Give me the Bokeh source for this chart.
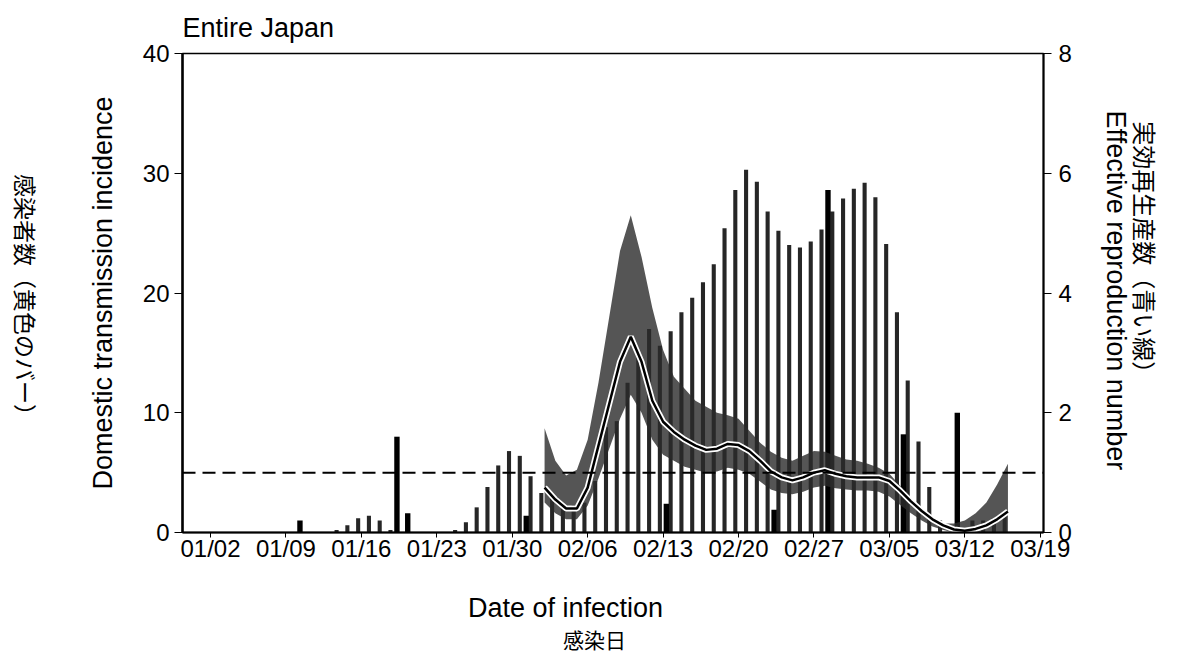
import math
import pandas as pd
from bokeh.plotting import figure
from bokeh.layouts import row, column
from bokeh.models import Range1d, LinearAxis, FixedTicker, Span, ColumnDataSource
from bokeh.core.properties import value
from bokeh.embed import file_html
from bokeh.resources import INLINE

# ---------------- data ----------------
start_date = "2020-01-02"
tick_labels = ["01/02", "01/09", "01/16", "01/23", "01/30", "02/06",
               "02/13", "02/20", "02/27", "03/05", "03/12", "03/19"]

# daily domestic transmission incidence (main bars)
bar_dates = ["01-13", "01-14", "01-15", "01-16", "01-17", "01-18",
             "01-24", "01-25", "01-26", "01-27", "01-28", "01-29", "01-30", "01-31",
             "02-01", "02-02", "02-03", "02-04", "02-05", "02-06", "02-07", "02-08",
             "02-09", "02-10", "02-11", "02-12", "02-13", "02-14", "02-15", "02-16",
             "02-17", "02-18", "02-19", "02-20", "02-21", "02-22", "02-23", "02-24",
             "02-25", "02-26", "02-27", "02-28", "02-29", "03-01", "03-02", "03-03",
             "03-04", "03-05", "03-06", "03-07", "03-08", "03-09",
             "03-12", "03-13", "03-14", "03-15"]
bar_values = [0.2, 0.6, 1.2, 1.4, 1.0, 0.2,
              0.2, 0.85, 2.1, 3.8, 5.6, 6.8, 6.4, 4.7,
              3.3, 3.0, 2.3, 2.3, 2.5, 4.3, 8.8, 9.3,
              12.5, 15.0, 17.0, 15.6, 16.8, 18.4, 19.6, 20.9,
              22.4, 25.4, 28.6, 30.3, 29.3, 26.8, 25.2, 24.0,
              23.8, 24.3, 25.3, 26.8, 27.9, 28.7, 29.2, 28.0,
              24.1, 18.4, 12.7, 7.6, 3.8, 1.0,
              1.0, 1.0, 1.2, 1.4]

# second (dark) bar series
dark_dates = ["01-10", "01-19", "01-20", "01-31", "02-13", "02-23", "02-28", "03-06", "03-11"]
dark_values = [1.0, 8.0, 1.6, 1.4, 2.4, 1.9, 28.6, 8.2, 10.0]

# effective reproduction number (central estimate and interval)
rt_dates = ["02-02", "02-03", "02-04", "02-05", "02-06", "02-07", "02-08", "02-09",
            "02-10", "02-11", "02-12", "02-13", "02-14", "02-15", "02-16", "02-17",
            "02-18", "02-19", "02-20", "02-21", "02-22", "02-23", "02-24", "02-25",
            "02-26", "02-27", "02-28", "02-29", "03-01", "03-02", "03-03", "03-04",
            "03-05", "03-06", "03-07", "03-08", "03-09", "03-10", "03-11", "03-12",
            "03-13", "03-14", "03-15", "03-16"]
rt_mean = [0.75, 0.55, 0.40, 0.40, 0.75, 1.45, 2.15, 2.85,
           3.27, 2.85, 2.20, 1.85, 1.68, 1.55, 1.45, 1.38,
           1.40, 1.48, 1.46, 1.36, 1.20, 1.02, 0.92, 0.87,
           0.92, 1.00, 1.04, 0.98, 0.94, 0.92, 0.92, 0.92,
           0.86, 0.70, 0.52, 0.36, 0.22, 0.12, 0.05, 0.03,
           0.06, 0.12, 0.22, 0.35]
rt_lower = [0.50, 0.32, 0.22, 0.22, 0.45, 0.90, 1.40, 1.90,
            2.30, 2.00, 1.55, 1.30, 1.20, 1.10, 1.05, 1.00,
            1.02, 1.08, 1.05, 0.98, 0.85, 0.72, 0.66, 0.64,
            0.68, 0.75, 0.78, 0.74, 0.72, 0.70, 0.70, 0.68,
            0.60, 0.46, 0.32, 0.20, 0.10, 0.04, 0.00, 0.00,
            0.00, 0.00, 0.00, 0.00]
rt_upper = [1.74, 1.20, 0.95, 1.05, 1.55, 2.50, 3.60, 4.70,
            5.30, 4.60, 3.75, 3.05, 2.60, 2.40, 2.20, 2.10,
            2.00, 1.96, 1.90, 1.70, 1.50, 1.35, 1.25, 1.20,
            1.28, 1.36, 1.35, 1.28, 1.22, 1.20, 1.15, 1.08,
            0.98, 0.78, 0.55, 0.37, 0.22, 0.15, 0.15, 0.20,
            0.32, 0.50, 0.80, 1.15]

rt_threshold = 1.0

# ---------------- helpers ----------------
t0 = pd.Timestamp(start_date)


def day_index(md):
    return float((pd.Timestamp("2020-" + md.replace("/", "-")) - t0).days)


bar_x = [day_index(d) + 0.7 for d in bar_dates]
dark_x = [day_index(d) + 0.3 for d in dark_dates]
rt_x = [day_index(d) for d in rt_dates]
tick_pos = [day_index(t) for t in tick_labels]

FONT = "Liberation Sans"
JFONT = "Noto Sans CJK JP"

TOTAL_W, TOTAL_H = 1166, 652
LEFT_W, RIGHT_W = 50, 92
MAIN_H = 566
BOTTOM_H = TOTAL_H - MAIN_H
MAIN_W = TOTAL_W - LEFT_W - RIGHT_W

# ---------------- main chart ----------------
p = figure(width=MAIN_W, height=MAIN_H, output_backend="svg", toolbar_location=None,
           x_range=Range1d(-2.6, 77.3), y_range=Range1d(0, 40),
           min_border_left=182 - LEFT_W, min_border_right=1074 - 1044,
           min_border_top=53, min_border_bottom=MAIN_H - 532)
p.extra_y_ranges = {"rt": Range1d(0, 8)}

p.xgrid.visible = False
p.ygrid.visible = False
p.outline_line_color = "black"
p.outline_line_width = 1.5
p.background_fill_color = "white"
p.border_fill_color = "white"

# title
p.title.text = "Entire Japan"
p.title.text_font = FONT
p.title.text_font_size = "27px"
p.title.text_font_style = "normal"
p.title.text_color = "black"
p.title.align = "left"
p.title.offset = 0
p.title.standoff = 21

# bars
p.vbar(x=bar_x, top=bar_values, width=0.38, bottom=0,
       fill_color="#262626", line_color=None)
p.vbar(x=dark_x, top=dark_values, width=0.5, bottom=0,
       fill_color="#000000", line_color=None)

# Rt interval band
src = ColumnDataSource(dict(x=rt_x, lo=rt_lower, hi=rt_upper, m=rt_mean))
p.varea(x="x", y1="lo", y2="hi", source=src, y_range_name="rt",
        fill_color="#2a2a2a", fill_alpha=0.8)

# Rt = 1 threshold
p.add_layout(Span(location=rt_threshold, dimension="width", y_range_name="rt",
                  line_color="black", line_width=2, line_dash="13 7"))

# Rt central line with white halo
p.line(x="x", y="m", source=src, y_range_name="rt", line_color="white", line_width=6)
p.line(x="x", y="m", source=src, y_range_name="rt", line_color="black", line_width=2.5)


def style_ticks(ax):
    ax.minor_tick_line_color = None
    ax.major_tick_in = 0
    ax.major_label_text_font = FONT
    ax.major_label_text_font_size = "24px"
    ax.major_label_text_color = "black"
    ax.axis_label_text_font_style = "normal"
    ax.axis_label_text_color = "black"


# bottom axis
xa = p.xaxis[0]
xa.ticker = FixedTicker(ticks=tick_pos)
xa.major_label_overrides = {t: lab for t, lab in zip(tick_pos, tick_labels)}
style_ticks(xa)
xa.major_tick_out = 5
xa.major_label_standoff = -3
xa.axis_line_width = 2

# left axis
ya = p.yaxis[0]
ya.ticker = FixedTicker(ticks=[0, 10, 20, 30, 40])
style_ticks(ya)
ya.major_tick_out = 8
ya.major_label_standoff = 5
ya.axis_line_width = 2.5
ya.axis_label = "Domestic transmission incidence"
ya.axis_label_text_font = FONT
ya.axis_label_text_font_size = "27px"
ya.axis_label_standoff = 22

# right axis
ra = LinearAxis(y_range_name="rt", ticker=FixedTicker(ticks=[0, 2, 4, 6, 8]))
style_ticks(ra)
ra.major_tick_out = 8
ra.major_label_standoff = 7
ra.axis_line_width = 2
p.add_layout(ra, "right")


# ---------------- side / bottom text panels ----------------
def text_panel(w, h):
    f = figure(width=w, height=h, output_backend="svg", toolbar_location=None,
               x_range=Range1d(0, w), y_range=Range1d(0, h),
               x_axis_type=None, y_axis_type=None, min_border=0)
    f.outline_line_color = None
    f.background_fill_color = "white"
    f.border_fill_color = "white"
    f.xgrid.visible = False
    f.ygrid.visible = False
    return f


left_panel = text_panel(LEFT_W, MAIN_H)
left_panel.text(x=[25], y=[MAIN_H - 292], text=["感染者数（黄色のバー）"],
                angle=-math.pi / 2, text_align="center", text_baseline="middle",
                text_font=value(JFONT), text_font_size="23px", text_color="black")

right_panel = text_panel(RIGHT_W, MAIN_H)
right_panel.text(x=[41], y=[MAIN_H - 280], text=["Effective reproduction number"],
                 angle=-math.pi / 2, text_align="center", text_baseline="middle",
                 text_font=value(FONT), text_font_size="27px", text_color="black")
right_panel.text(x=[71], y=[MAIN_H - 236], text=["実効再生産数（青い線）"],
                 angle=-math.pi / 2, text_align="center", text_baseline="middle",
                 text_font=value(JFONT), text_font_size="24px", text_color="black")

bottom_panel = text_panel(TOTAL_W, BOTTOM_H)
bottom_panel.text(x=[565], y=[BOTTOM_H - (607 - MAIN_H)], text=["Date of infection"],
                  text_align="center", text_baseline="middle",
                  text_font=value(FONT), text_font_size="27px", text_color="black")
bottom_panel.text(x=[594], y=[BOTTOM_H - (638 - MAIN_H)], text=["感染日"],
                  text_align="center", text_baseline="middle",
                  text_font=value(JFONT), text_font_size="21px", text_color="black")

layout = column(row(left_panel, p, right_panel, spacing=0), bottom_panel, spacing=0)

open("out.html", "w").write(file_html(layout, INLINE))
